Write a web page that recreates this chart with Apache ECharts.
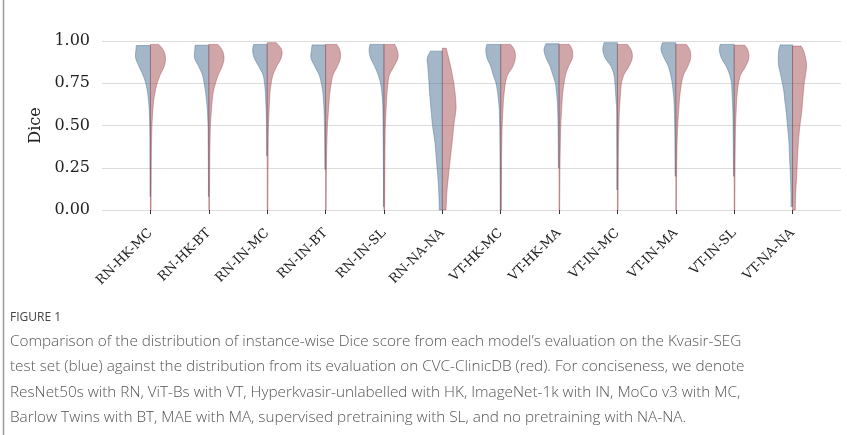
<!DOCTYPE html>
<html>
<head>
<meta charset="utf-8">
<script src="https://cdn.jsdelivr.net/npm/echarts@6/dist/echarts.min.js"></script>
<style>
html,body{margin:0;padding:0;background:#fff;}
#chart{width:847px;height:435px;}
</style>
</head>
<body>
<div id="chart"></div>
<script>
// ---- data ----
const categories = ['RN-HK-MC','RN-HK-BT','RN-IN-MC','RN-IN-BT','RN-IN-SL','RN-NA-NA',
                    'VT-HK-MC','VT-HK-MA','VT-IN-MC','VT-IN-MA','VT-IN-SL','VT-NA-NA'];
const yTicks = [0, 0.25, 0.5, 0.75, 1.0];
// Dice levels at which the violin density (half width) was read
const levels = [0, 0.1, 0.2, 0.3, 0.4, 0.5, 0.6, 0.65, 0.7, 0.75, 0.8, 0.85, 0.9, 0.95, 1.0];
// Kvasir-SEG (blue, left half)
const blueMin = [0.08, 0.08, 0.32, 0.24, 0.02, 0.0, 0.0, 0.25, 0.12, 0.20, 0.20, 0.02];
const blueMax = [0.973, 0.975, 0.98, 0.977, 0.98, 0.94, 0.98, 0.984, 0.99, 0.99, 0.98, 0.977];
const blueDensity = [
  [0.4,0.4,0.4,0.5,0.5,0.7,1.3,2.0,3.0,4.7,7.6,11.5,14.8,14.5,13.5],
  [0.4,0.4,0.4,0.5,0.6,0.8,1.6,2.4,3.3,4.7,6.4,10.2,14.3,14.0,13.3],
  [0.5,0.5,0.5,0.5,0.6,0.7,1.1,1.5,1.9,2.7,4.2,8.5,13.0,14.5,12.5],
  [0.7,0.7,0.7,0.8,0.9,1.1,1.6,2.1,2.8,4.3,6.5,10.8,14.6,14.0,13.0],
  [0.5,0.5,0.5,0.6,0.7,0.9,1.1,1.5,2.2,3.4,5.8,9.3,13.4,14.8,13.0],
  [3.0,3.5,4.5,6.0,7.4,9.8,11.4,12.1,12.9,13.3,13.9,14.5,15.0,11.0,8.0],
  [0.5,0.5,0.6,0.7,0.8,1.0,1.5,2.2,3.2,4.7,7.6,10.0,13.7,14.8,13.0],
  [0.7,0.7,0.7,0.7,0.8,1.0,1.4,1.9,2.6,3.7,6.3,9.0,13.0,15.0,12.0],
  [0.6,0.6,0.6,0.6,0.7,0.7,0.8,1.4,1.9,2.5,3.5,6.5,12.3,14.6,13.0],
  [0.7,0.7,0.7,0.8,0.9,1.1,1.5,1.9,2.6,3.6,5.2,7.5,11.7,14.8,13.0],
  [0.7,0.7,0.7,0.8,0.9,1.1,1.4,1.8,2.2,2.7,4.5,8.0,12.8,14.8,13.0],
  [1.5,1.6,2.1,2.9,3.6,5.1,6.7,7.8,8.7,10.2,11.9,13.8,14.3,13.6,11.0]
];
// CVC-ClinicDB (red, right half)
const redMin = [0, 0, 0, 0, 0, 0, 0, 0, 0, 0, 0, 0];
const redMax = [0.98, 0.98, 0.99, 0.98, 0.98, 0.957, 0.98, 0.98, 0.98, 0.98, 0.975, 0.97];
const redDensity = [
  [0.6,0.7,0.8,0.9,1.1,1.5,2.5,3.3,4.7,6.7,9.8,13.7,15.0,12.5,5.0],
  [0.6,0.7,0.8,0.9,1.2,1.6,2.7,3.4,4.5,6.7,9.5,13.3,15.2,13.0,6.0],
  [0.6,0.7,0.8,0.9,1.0,1.3,2.0,2.4,2.9,4.0,5.8,9.5,14.0,14.3,7.5],
  [0.6,0.7,0.8,1.0,1.3,1.9,3.0,3.6,4.4,5.7,7.5,11.8,14.8,14.0,9.0],
  [0.6,0.7,0.8,0.9,1.1,1.4,2.2,2.6,3.2,4.0,5.5,10.0,14.0,13.1,9.0],
  [3.7,4.5,6.1,7.9,9.8,11.5,13.7,13.4,12.6,11.5,10.0,8.3,6.3,4.2,2.5],
  [0.6,0.7,0.8,0.9,1.1,1.5,2.3,2.8,3.6,4.7,7.0,12.2,14.6,13.5,7.0],
  [0.6,0.7,0.8,1.0,1.3,1.7,2.6,3.1,3.8,5.0,6.5,9.5,13.3,13.0,8.0],
  [0.6,0.7,0.8,0.9,1.1,1.5,2.1,2.6,3.2,4.0,6.5,11.5,14.8,13.5,7.0],
  [0.6,0.7,0.8,1.0,1.3,1.9,3.0,3.6,4.5,5.7,7.8,12.0,14.8,13.8,8.0],
  [0.6,0.7,0.8,0.9,1.1,1.4,2.1,2.5,3.2,4.3,6.5,11.5,14.6,13.4,7.0],
  [2.7,3.2,4.1,4.9,5.8,7.4,9.5,10.1,10.9,11.7,13.0,14.0,13.0,10.5,5.0]
];
const captionTitle = 'FIGURE 1';
const captionLines = [
  'Comparison of the distribution of instance-wise Dice score from each model\u2019s evaluation on the Kvasir-SEG',
  'test set (blue) against the distribution from its evaluation on CVC-ClinicDB (red). For conciseness, we denote',
  'ResNet50s with RN, ViT-Bs with VT, Hyperkvasir-unlabelled with HK, ImageNet-1k with IN, MoCo v3 with MC,',
  'Barlow Twins with BT, MAE with MA, supervised pretraining with SL, and no pretraining with NA-NA.'
];

// ---- rendering helpers ----
const DENSITY_PER_CATEGORY = 58.4; // density units spanning one category slot

function densityAt(arr, v) {
  // Catmull-Rom through the read points
  let i = 0;
  while (i < levels.length - 2 && v > levels[i + 1]) i++;
  const x0 = levels[i], x1 = levels[i + 1];
  const t = Math.max(0, Math.min(1, (v - x0) / (x1 - x0)));
  const p0 = arr[Math.max(0, i - 1)], p1 = arr[i], p2 = arr[i + 1], p3 = arr[Math.min(arr.length - 1, i + 2)];
  const h0 = levels[Math.max(0, i - 1)], h3 = levels[Math.min(levels.length - 1, i + 2)];
  const m1 = (p2 - p0) / ((x1 - h0) || 1) * (x1 - x0);
  const m2 = (p3 - p1) / ((h3 - x0) || 1) * (x1 - x0);
  const t2 = t * t, t3 = t2 * t;
  const val = (2*t3 - 3*t2 + 1) * p1 + (t3 - 2*t2 + t) * m1 + (-2*t3 + 3*t2) * p2 + (t3 - t2) * m2;
  return Math.max(0.3, val);
}

function halfPolygon(api, idx, side, dens, vmin, vmax) {
  const pxPerUnit = api.size([1, 0])[0];
  const k = pxPerUnit / DENSITY_PER_CATEGORY;
  const cx = api.coord([idx, 0])[0];
  const pts = [[cx, api.coord([idx, vmin])[1]]];
  const steps = Math.max(2, Math.ceil((vmax - vmin) / 0.005));
  for (let s = 0; s <= steps; s++) {
    const v = vmin + (vmax - vmin) * s / steps;
    const y = api.coord([idx, v])[1];
    pts.push([cx + side * densityAt(dens, v) * k, y]);
  }
  pts.push([cx, api.coord([idx, vmax])[1]]);
  return pts;
}

const chart = echarts.init(document.getElementById('chart'), null, {renderer: 'canvas'});
const serif = 'DejaVu Serif';

const option = {
  animation: false,
  grid: {left: 102, right: 6, top: 41, bottom: 225, containLabel: false},
  xAxis: {
    type: 'value', min: -0.83, max: 11.83, offset: 10,
    axisLine: {show: false},
    splitLine: {show: false},
    axisTick: {show: true, length: 4, inside: false, customValues: categories.map((c, i) => i),
               lineStyle: {color: '#333', width: 1}},
    axisLabel: {customValues: categories.map((c, i) => i), rotate: 45, margin: 11,
                formatter: v => categories[Math.round(v)],
                fontFamily: serif, fontSize: 13, color: '#222'}
  },
  yAxis: {
    type: 'value', min: 0, max: 1, interval: 0.25,
    name: 'Dice', nameLocation: 'middle', nameGap: 55,
    nameTextStyle: {fontFamily: serif, fontSize: 16, color: '#222'},
    axisLine: {show: false}, axisTick: {show: false},
    axisLabel: {fontFamily: serif, fontSize: 16, color: '#222', margin: 12,
                formatter: v => yTicks.indexOf(v) >= 0 ? v.toFixed(2) : ''},
    splitLine: {show: true, lineStyle: {color: '#dcdcdc', width: 1}}
  },
  series: [
    {
      type: 'custom', name: 'Kvasir-SEG',
      data: categories.map((c, i) => [i]),
      encode: {x: 0},
      renderItem: (params, api) => {
        const i = api.value(0);
        return {type: 'polygon', shape: {points: halfPolygon(api, i, -1, blueDensity[i], blueMin[i], blueMax[i])},
                style: {fill: 'rgba(72,112,146,0.5)', stroke: 'rgba(72,112,146,0.6)', lineWidth: 0.8}};
      }
    },
    {
      type: 'custom', name: 'CVC-ClinicDB',
      data: categories.map((c, i) => [i]),
      encode: {x: 0},
      renderItem: (params, api) => {
        const i = api.value(0);
        return {type: 'polygon', shape: {points: halfPolygon(api, i, 1, redDensity[i], redMin[i], redMax[i])},
                style: {fill: 'rgba(158,68,74,0.48)', stroke: 'rgba(158,68,74,0.55)', lineWidth: 0.8}};
      }
    }
  ],
  graphic: [
    {type: 'line', shape: {x1: 3.5, y1: 0, x2: 3.5, y2: 435}, style: {stroke: '#9a9a9a', lineWidth: 1.5}},
    {type: 'text', left: 10, top: 312, style: {text: captionTitle, font: '12px "Open Sans"', fill: '#444'}},
  ].concat(captionLines.map((t, j) => ({
    type: 'text', left: 10, top: 334 + j * 25.5,
    style: {text: t, font: '300 15.3px "Open Sans"', fill: '#555'}
  })))
};
chart.setOption(option);
</script>
</body>
</html>
